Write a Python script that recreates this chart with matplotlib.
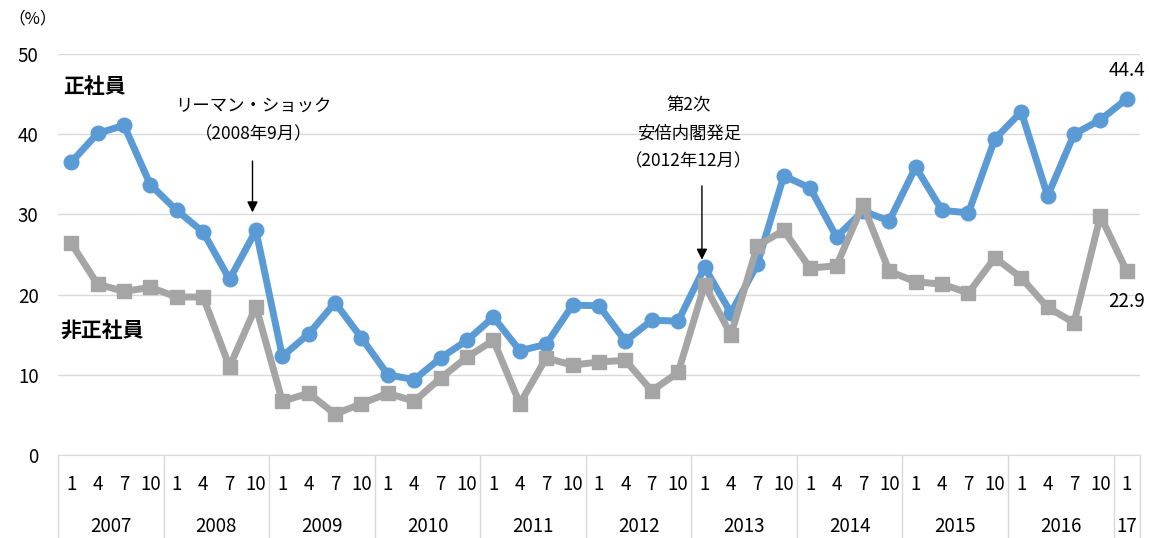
import matplotlib
matplotlib.use("Agg")
import matplotlib.pyplot as plt
import matplotlib.transforms as mtransforms

plt.rcParams['font.family'] = ['Noto Sans CJK JP', 'DejaVu Sans']

# quarters (month of survey) and years
years = ['2007', '2008', '2009', '2010', '2011', '2012',
         '2013', '2014', '2015', '2016', '17']
months = ['1', '4', '7', '10']

# 正社員 (regular employees)
regular = [36.5, 40.1, 41.1, 33.7,
           30.5, 27.8, 21.9, 28.0,
           12.3, 15.1, 19.0, 14.6,
           10.0, 9.4, 12.1, 14.3,
           17.2, 13.0, 13.8, 18.7,
           18.6, 14.2, 16.8, 16.7,
           23.4, 17.7, 23.8, 34.8,
           33.3, 27.2, 30.4, 29.2,
           35.9, 30.5, 30.2, 39.4,
           42.8, 32.3, 40.0, 41.8,
           44.4]
# 非正社員 (non-regular employees)
nonregular = [26.4, 21.3, 20.4, 20.9,
              19.7, 19.7, 11.0, 18.5,
              6.7, 7.7, 5.1, 6.4,
              7.7, 6.7, 9.6, 12.2,
              14.3, 6.4, 12.1, 11.2,
              11.6, 11.8, 8.0, 10.3,
              21.2, 15.0, 26.1, 28.0,
              23.3, 23.6, 31.2, 22.9,
              21.6, 21.3, 20.2, 24.6,
              22.1, 18.4, 16.5, 29.8,
              22.9]

W, H = 1149, 538
fig = plt.figure(figsize=(W / 100, H / 100), dpi=100)
ax = fig.add_axes([58 / W, (H - 455) / H, (1140 - 58) / W, (455 - 54) / H])

x = list(range(len(regular)))
ax.plot(x, regular, color='#5B9BD5', lw=5, marker='o', ms=10.5, zorder=3)
ax.plot(x, nonregular, color='#A5A5A5', lw=5, marker='s', ms=10.5, zorder=3)

ax.set_xlim(-0.5, len(x) - 0.5)
ax.set_ylim(0, 50)
ax.set_yticks(range(0, 51, 10))
ax.yaxis.grid(True, color='#D9D9D9', lw=1)
ax.set_axisbelow(True)
for s in ['top', 'right', 'left']:
    ax.spines[s].set_visible(False)
ax.spines['bottom'].set_color('#D9D9D9')
ax.tick_params(axis='y', length=0, labelsize=13.5, pad=14)
ax.tick_params(axis='x', length=0, labelbottom=False)

# two-level category axis
trans = mtransforms.blended_transform_factory(ax.transData, ax.transAxes)
ax_h = 455 - 54
for i in range(len(x)):
    ax.text(i, -29 / ax_h, months[i % 4], transform=trans, ha='center',
            va='center', fontsize=13.5)
for k, yr in enumerate(years):
    start = k * 4
    end = min(start + 3, len(x) - 1)
    ax.text((start + end) / 2, -71 / ax_h, yr, transform=trans, ha='center',
            va='center', fontsize=13.5)
for b in [i - 0.5 for i in range(0, len(x), 4)] + [len(x) - 0.5]:
    ax.plot([b, b], [0, -84 / ax_h], transform=trans, color='#D9D9D9',
            lw=1, clip_on=False)

# labels and annotations
fig.text(8 / W, 1 - 19 / H, '（%）', ha='left', va='center', fontsize=12)
ax.text(-0.3, 45.9, '正社員', fontsize=15, fontweight='bold', va='center')
ax.text(-0.4, 15.6, '非正社員', fontsize=15, fontweight='bold', va='center')

ax.text(6.9, 43.4, 'リーマン・ショック', ha='center', va='center', fontsize=12.5)
ax.text(6.9, 40.0, '（2008年9月）', ha='center', va='center', fontsize=12.5)
ax.annotate('', xy=(6.87, 29.9), xytext=(6.87, 37.0),
            arrowprops=dict(arrowstyle='-|>', color='black', lw=1,
                            mutation_scale=16))

ax.text(23.4, 43.6, '第2次', ha='center', va='center', fontsize=12.5)
ax.text(23.4, 40.1, '安倍内閣発足', ha='center', va='center', fontsize=12.5)
ax.text(23.4, 36.6, '（2012年12月）', ha='center', va='center', fontsize=12.5)
ax.annotate('', xy=(23.9, 24.0), xytext=(23.9, 33.9),
            arrowprops=dict(arrowstyle='-|>', color='black', lw=1,
                            mutation_scale=16))

ax.text(40, regular[-1] + 3.6, f'{regular[-1]:.1f}', ha='center',
        va='center', fontsize=13.5)
ax.text(40, nonregular[-1] - 3.7, f'{nonregular[-1]:.1f}', ha='center',
        va='center', fontsize=13.5)

fig.savefig('out.png', dpi=100)
